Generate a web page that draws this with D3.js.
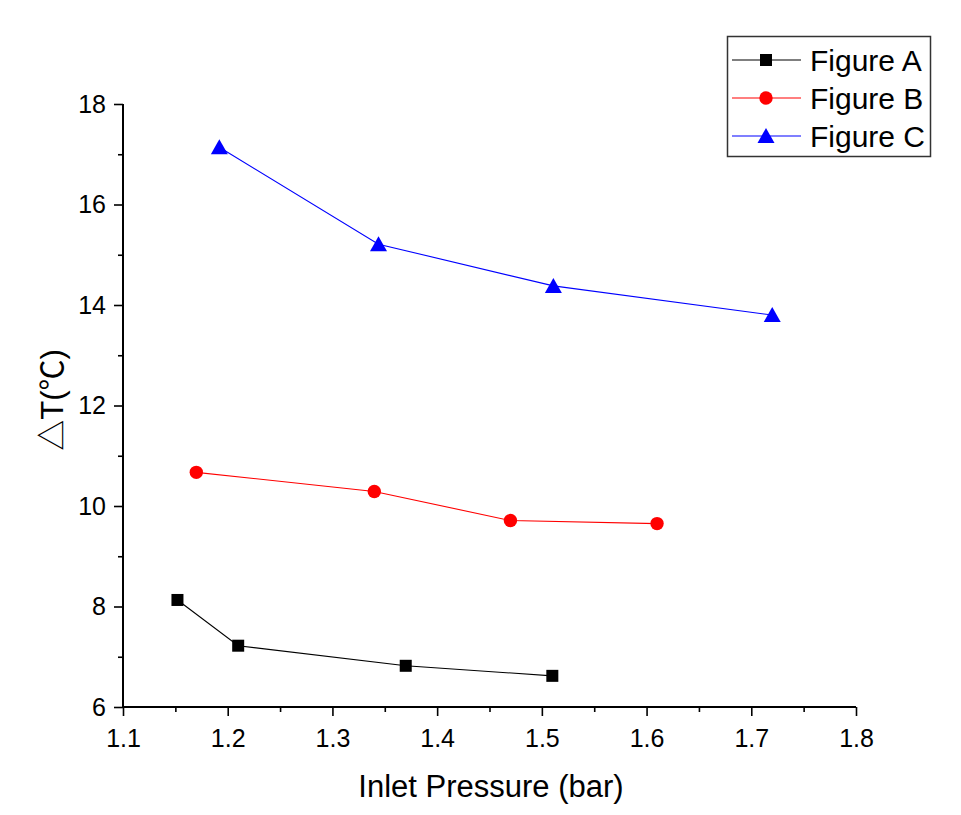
<!DOCTYPE html>
<html>
<head>
<meta charset="utf-8">
<script src="https://cdn.jsdelivr.net/npm/d3@7"></script>
<style>
  html, body { margin: 0; padding: 0; background: #fff; }
  svg { display: block; }
  text { font-family: "Liberation Sans", Arial, "Noto Sans CJK SC", sans-serif; fill: #000; }
</style>
</head>
<body>
<svg id="chart" width="961" height="815"></svg>
<script>
// ---- data ----
const seriesNames = ["Figure A", "Figure B", "Figure C"];
const seriesColors = ["#000000", "#ff0000", "#0000ff"];
const seriesShapes = ["square", "circle", "triangle"];
const pressureA = [1.152, 1.210, 1.370, 1.510];
const deltaTA   = [8.13, 7.22, 6.82, 6.62];
const pressureB = [1.170, 1.340, 1.470, 1.610];
const deltaTB   = [10.67, 10.29, 9.71, 9.65];
const pressureC = [1.192, 1.344, 1.511, 1.720];
const deltaTC   = [17.14, 15.21, 14.38, 13.80];
const xTicks = [1.1, 1.2, 1.3, 1.4, 1.5, 1.6, 1.7, 1.8];
const yTicks = [6, 8, 10, 12, 14, 16, 18];
const xMinorTicks = [1.15, 1.25, 1.35, 1.45, 1.55, 1.65, 1.75];
const yMinorTicks = [7, 9, 11, 13, 15, 17];
const xTitle = "Inlet Pressure (bar)";
const yTitle = "△T(℃)";

const series = [
  {name: seriesNames[0], color: seriesColors[0], shape: seriesShapes[0], xs: pressureA, ys: deltaTA},
  {name: seriesNames[1], color: seriesColors[1], shape: seriesShapes[1], xs: pressureB, ys: deltaTB},
  {name: seriesNames[2], color: seriesColors[2], shape: seriesShapes[2], xs: pressureC, ys: deltaTC}
];

// ---- layout ----
const L = 123, R = 856, T = 104, B = 707;
const svg = d3.select("#chart");
const x = d3.scaleLinear().domain([1.1, 1.8]).range([L, R]);
const y = d3.scaleLinear().domain([6, 18]).range([B, T]);

// axes
const xAxis = svg.append("g").attr("transform", `translate(0,${B})`)
  .call(d3.axisBottom(x).tickValues(xTicks).tickSize(9).tickPadding(13).tickFormat(d3.format(".1f")));
const yAxis = svg.append("g").attr("transform", `translate(${L},0)`)
  .call(d3.axisLeft(y).tickValues(yTicks).tickSize(9).tickPadding(8).tickFormat(d3.format("d")));
svg.append("g").attr("transform", `translate(0,${B})`)
  .call(d3.axisBottom(x).tickValues(xMinorTicks).tickSize(5).tickFormat(""))
  .select(".domain").remove();
svg.append("g").attr("transform", `translate(${L},0)`)
  .call(d3.axisLeft(y).tickValues(yMinorTicks).tickSize(5).tickFormat(""))
  .select(".domain").remove();

svg.selectAll(".domain").attr("stroke", "#000").attr("stroke-width", 2);
svg.selectAll(".tick line").attr("stroke", "#000").attr("stroke-width", 1.6);
xAxis.selectAll(".domain").attr("d", `M${L},0H${R}`);
yAxis.selectAll(".domain").attr("d", `M0,${B}V${T}`);
svg.selectAll(".tick text").attr("font-size", 25).attr("fill", "#000")
  .style("font-family", '"Liberation Sans", Arial, sans-serif');

// titles
svg.append("text").attr("x", 491).attr("y", 797).attr("text-anchor", "middle")
  .attr("font-size", 31).text(xTitle);
svg.append("text").attr("transform", "translate(63,400) rotate(-90)")
  .attr("text-anchor", "middle").attr("font-size", 31).text(yTitle);

// marker drawing
function drawMarker(g, shape, cx, cy, color) {
  if (shape === "square") {
    g.append("rect").attr("x", cx - 6).attr("y", cy - 6).attr("width", 12).attr("height", 12).attr("fill", color);
  } else if (shape === "circle") {
    g.append("circle").attr("cx", cx).attr("cy", cy).attr("r", 6.7).attr("fill", color);
  } else {
    g.append("path").attr("d", `M${cx},${cy - 8}L${cx + 8.5},${cy + 7}L${cx - 8.5},${cy + 7}Z`).attr("fill", color);
  }
}

// series
const line = d3.line().x(d => x(d[0])).y(d => y(d[1]));
series.forEach(s => {
  const pts = s.xs.map((v, i) => [v, s.ys[i]]);
  const g = svg.append("g");
  g.append("path").datum(pts).attr("d", line).attr("fill", "none")
    .attr("stroke", s.color).attr("stroke-width", 1.1);
  pts.forEach(p => drawMarker(g, s.shape, x(p[0]), y(p[1]), s.color));
});

// legend
const lg = svg.append("g");
lg.append("rect").attr("x", 727.5).attr("y", 36.5).attr("width", 203).attr("height", 120)
  .attr("fill", "#fff").attr("stroke", "#333").attr("stroke-width", 1.5);
const rowY = [60, 98, 136];
series.forEach((s, i) => {
  lg.append("line").attr("x1", 732).attr("x2", 801).attr("y1", rowY[i]).attr("y2", rowY[i])
    .attr("stroke", s.color).attr("stroke-width", 1.2);
  drawMarker(lg, s.shape, 766, rowY[i], s.color);
  lg.append("text").attr("x", 810).attr("y", rowY[i] + 11).attr("font-size", 30).text(s.name);
});
</script>
</body>
</html>
